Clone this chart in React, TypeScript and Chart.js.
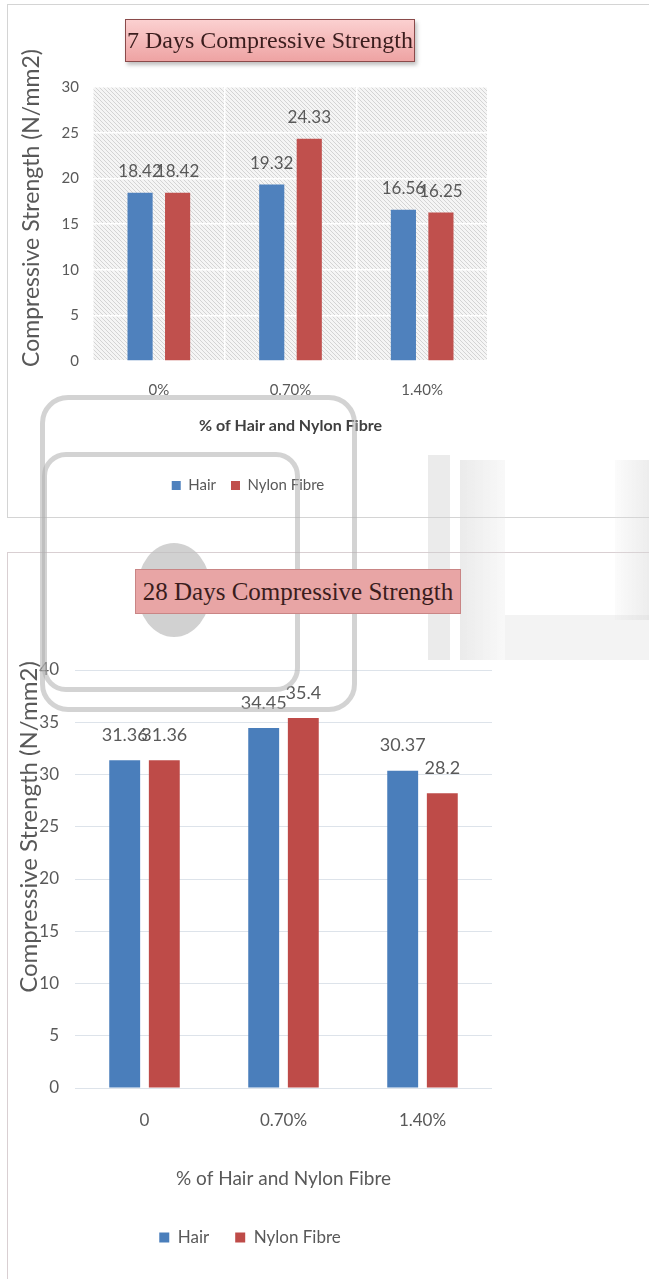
import React, { useEffect, useRef } from "react";
import { Chart, registerables } from "chart.js";

Chart.register(...registerables);

// ---- data ----
const categories7 = ["0%", "0.70%", "1.40%"];
const hair7 = [18.42, 19.32, 16.56];
const nylon7 = [18.42, 24.33, 16.25];

const categories28 = ["0", "0.70%", "1.40%"];
const hair28 = [31.36, 34.45, 30.37];
const nylon28 = [31.36, 35.4, 28.2];

const seriesNames = ["Hair", "Nylon Fibre"];
const title7 = "7 Days Compressive Strength";
const title28 = "28 Days Compressive Strength";
const yTitle = "Compressive Strength (N/mm2)";
const xTitle = "% of Hair and Nylon Fibre";

const SANS = "Lato, 'Open Sans', sans-serif";
const SERIF = "'Liberation Serif', 'DejaVu Serif', serif";

function makeHatch(): CanvasPattern | string {
  const c = document.createElement("canvas");
  c.width = 4;
  c.height = 4;
  const g = c.getContext("2d");
  if (!g) return "#eee";
  g.fillStyle = "#f5f5f5";
  g.fillRect(0, 0, 4, 4);
  g.strokeStyle = "#d4d4d4";
  g.lineWidth = 1;
  g.beginPath();
  g.moveTo(0, 0);
  g.lineTo(4, 4);
  g.stroke();
  const p = g.createPattern(c, "repeat");
  return p || "#eee";
}

function labelPlugin(size: number, offset: number) {
  return {
    id: "valueLabels",
    afterDatasetsDraw(chart: any) {
      const ctx = chart.ctx;
      ctx.save();
      ctx.font = `${size}px ${SANS}`;
      ctx.fillStyle = "#595959";
      ctx.textAlign = "center";
      ctx.textBaseline = "middle";
      chart.data.datasets.forEach((ds: any, i: number) => {
        const meta = chart.getDatasetMeta(i);
        meta.data.forEach((el: any, j: number) => {
          ctx.fillText(String(ds.data[j]), el.x, el.y - offset);
        });
      });
      ctx.restore();
    },
  };
}

// rotated y-axis title, placed relative to the canvas (Excel puts it off-centre)
function yTitlePlugin(text: string, size: number, x: number, y: number) {
  return {
    id: "yTitle",
    afterDraw(chart: any) {
      const ctx = chart.ctx;
      ctx.save();
      ctx.translate(x, y);
      ctx.rotate(-Math.PI / 2);
      ctx.font = `${size}px ${SANS}`;
      ctx.fillStyle = "#595959";
      ctx.textAlign = "center";
      ctx.textBaseline = "middle";
      ctx.fillText(text, 0, 0);
      ctx.restore();
    },
  };
}

const hatchPlugin = {
  id: "hatchBg",
  beforeDraw(chart: any) {
    const { ctx, chartArea } = chart;
    ctx.save();
    ctx.fillStyle = makeHatch();
    ctx.fillRect(chartArea.left, chartArea.top, chartArea.right - chartArea.left, chartArea.bottom - chartArea.top);
    ctx.restore();
  },
};

function Chart7() {
  const ref = useRef<HTMLCanvasElement>(null);
  useEffect(() => {
    if (!ref.current) return;
    const chart = new Chart(ref.current, {
      type: "bar",
      data: {
        labels: categories7,
        datasets: [
          { label: seriesNames[0], data: hair7, backgroundColor: "#4f81bd", categoryPercentage: 0.57, barPercentage: 0.67 },
          { label: seriesNames[1], data: nylon7, backgroundColor: "#c0504d", categoryPercentage: 0.57, barPercentage: 0.67 },
        ],
      },
      options: {
        animation: false,
        responsive: false,
        maintainAspectRatio: false,
        layout: { padding: { top: 47, right: 20, bottom: 17, left: 0 } },
        scales: {
          y: {
            min: 0,
            max: 30,
            ticks: { stepSize: 5, padding: 14, color: "#595959", font: { family: SANS, size: 15 } },
            grid: { color: "#ffffff", lineWidth: 1.5, drawTicks: false },
            border: { display: false },
            title: { display: false },
            afterFit: (s: any) => { s.width = 85; },
          },
          x: {
            ticks: { padding: 20, color: "#595959", font: { family: SANS, size: 15 } },
            grid: { color: "#ffffff", lineWidth: 1.5, drawTicks: false },
            border: { display: false },
            title: { display: true, text: xTitle, color: "#404040", padding: { top: 0, bottom: 28 }, font: { family: SANS, size: 16, weight: "bold" } },
            afterFit: (s: any) => { s.height = 102; },
          },
        },
        plugins: {
          legend: {
            position: "bottom",
            labels: { boxWidth: 9, boxHeight: 9, padding: 15, color: "#595959", font: { family: SANS, size: 15 } },
          },
          tooltip: { enabled: false },
        },
      } as any,
      plugins: [hatchPlugin, labelPlugin(17, 21), yTitlePlugin(yTitle, 23, 24, 168)],
    });
    return () => chart.destroy();
  }, []);
  return <canvas ref={ref} width={500} height={480} style={{ position: "absolute", left: 8, top: 40, width: 500, height: 480 }} />;
}

function Chart28() {
  const ref = useRef<HTMLCanvasElement>(null);
  useEffect(() => {
    if (!ref.current) return;
    const chart = new Chart(ref.current, {
      type: "bar",
      data: {
        labels: categories28,
        datasets: [
          { label: seriesNames[0], data: hair28, backgroundColor: "#4a7ebb", categoryPercentage: 0.57, barPercentage: 0.78 },
          { label: seriesNames[1], data: nylon28, backgroundColor: "#be4b48", categoryPercentage: 0.57, barPercentage: 0.78 },
        ],
      },
      options: {
        animation: false,
        responsive: false,
        maintainAspectRatio: false,
        layout: { padding: { top: 70, right: 20, bottom: 24, left: 0 } },
        scales: {
          y: {
            min: 0,
            max: 40,
            ticks: { stepSize: 5, padding: 16, color: "#595959", font: { family: SANS, size: 17 } },
            grid: { color: "#dde3ea", lineWidth: 1, drawTicks: false },
            border: { display: false },
            title: { display: false },
            afterFit: (s: any) => { s.width = 67; },
          },
          x: {
            ticks: { padding: 22, color: "#595959", font: { family: SANS, size: 17 } },
            grid: { display: false, drawTicks: false },
            border: { display: false },
            title: { display: true, text: xTitle, color: "#595959", padding: { top: 0, bottom: 13 }, font: { family: SANS, size: 19 } },
            afterFit: (s: any) => { s.height = 115; },
          },
        },
        plugins: {
          legend: {
            position: "bottom",
            labels: { boxWidth: 10, boxHeight: 10, padding: 26, color: "#595959", font: { family: SANS, size: 17 } },
          },
          tooltip: { enabled: false },
        },
      } as any,
      plugins: [labelPlugin(18, 25), yTitlePlugin(yTitle, 24, 21, 227)],
    });
    return () => chart.destroy();
  }, []);
  return <canvas ref={ref} width={504} height={680} style={{ position: "absolute", left: 8, top: 600, width: 504, height: 680 }} />;
}

export default function App() {
  const wm = "rgba(175,175,175,0.55)";
  return (
    <div style={{ position: "absolute", left: 0, top: 0, width: 649, height: 1279, overflow: "hidden", background: "#fff" }}>
      {/* chart frames */}
      <div style={{ position: "absolute", left: 7, top: 4, width: 700, height: 514, border: "1px solid #d4d4d4", boxSizing: "border-box" }} />
      <div style={{ position: "absolute", left: 7, top: 552, width: 700, height: 800, border: "1px solid #d9cfd2", boxSizing: "border-box" }} />

      <Chart7 />
      <Chart28 />

      {/* watermark (behind titles) */}
      <div style={{ position: "absolute", left: 40, top: 395, width: 317, height: 317, border: `5px solid ${wm}`, borderRadius: 28, boxSizing: "border-box", pointerEvents: "none" }} />
      <div style={{ position: "absolute", left: 42, top: 452, width: 258, height: 240, border: `5px solid ${wm}`, borderRadius: 24, boxSizing: "border-box", pointerEvents: "none" }} />
      <div style={{ position: "absolute", left: 137, top: 543, width: 74, height: 94, borderRadius: "50%", background: "rgba(190,190,190,0.7)", pointerEvents: "none" }} />
      <div style={{ position: "absolute", left: 428, top: 455, width: 22, height: 205, background: "rgba(205,205,205,0.4)", pointerEvents: "none" }} />
      <div style={{ position: "absolute", left: 460, top: 460, width: 45, height: 200, background: "linear-gradient(90deg, rgba(210,210,210,0.45), rgba(230,230,230,0.25))", pointerEvents: "none" }} />
      <div style={{ position: "absolute", left: 505, top: 615, width: 144, height: 45, background: "rgba(220,220,220,0.35)", pointerEvents: "none" }} />
      <div style={{ position: "absolute", left: 615, top: 460, width: 34, height: 160, background: "linear-gradient(90deg, rgba(230,230,230,0.15), rgba(215,215,215,0.45))", pointerEvents: "none" }} />

      {/* titles */}
      <div style={{ position: "absolute", left: 125, top: 19, width: 290, height: 43, boxSizing: "border-box", border: "1px solid #8a4a4a", background: "linear-gradient(#fbd0d0, #eea3a3)", boxShadow: "2px 3px 4px rgba(0,0,0,0.25)", display: "flex", alignItems: "center", justifyContent: "center", fontFamily: SERIF, fontSize: 24, color: "#3a1d1d", whiteSpace: "nowrap" }}>{title7}</div>
      <div style={{ position: "absolute", left: 135, top: 569, width: 326, height: 45, boxSizing: "border-box", border: "1px solid #c98585", background: "#e8a5a5", display: "flex", alignItems: "center", justifyContent: "center", fontFamily: SERIF, fontSize: 25, color: "#3a1d1d", whiteSpace: "nowrap" }}>{title28}</div>
    </div>
  );
}
